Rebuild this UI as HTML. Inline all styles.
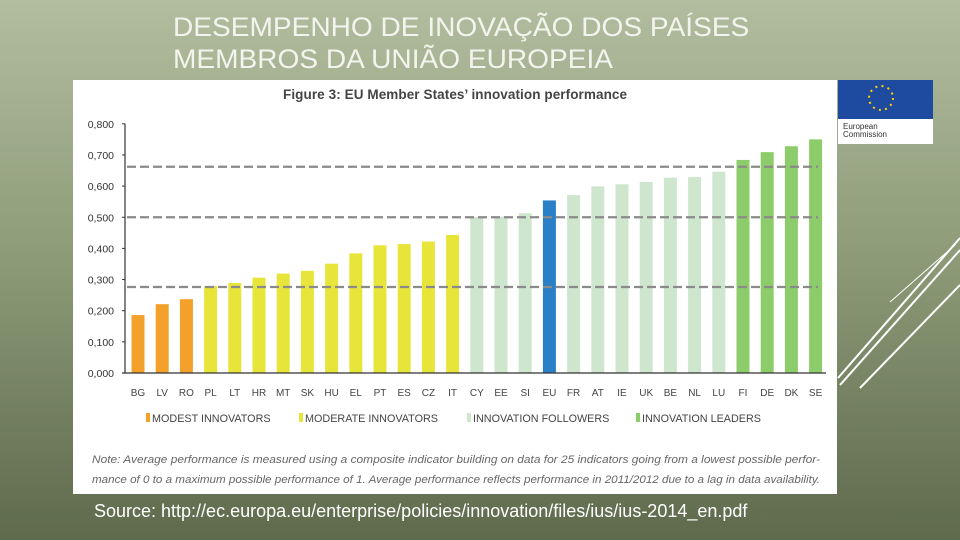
<!DOCTYPE html>
<html><head><meta charset="utf-8"><style>
body{margin:0;width:960px;height:540px;overflow:hidden;background:linear-gradient(180deg,#b2bd9f 0%,#8f9d7a 45%,#5e6a4c 100%);font-family:"Liberation Sans",sans-serif;position:relative}
.title{position:absolute;left:173px;top:11px;color:#f4f4ee;font-size:27px;line-height:32px;white-space:nowrap;transform:scaleX(1.04);transform-origin:left}
.src{position:absolute;left:94px;top:501px;color:#fff;font-size:18px;white-space:nowrap}
svg{position:absolute;left:0;top:0}
</style></head><body>
<div class="title">DESEMPENHO DE INOVAÇÃO DOS PAÍSES<br>MEMBROS DA UNIÃO EUROPEIA</div>
<svg width="960" height="540" id="s">
<rect x="73" y="80" width="764" height="414" fill="#fff"/>
<text x="455" y="99" text-anchor="middle" font-size="13.5" font-weight="bold" fill="#444" textLength="344">Figure 3: EU Member States’ innovation performance</text>
<g id="logo">
<rect x="838" y="80" width="95" height="64" fill="#fff"/>
<rect x="838" y="80" width="95" height="39" fill="#1e4aa0"/>
<circle cx="881" cy="98" r="12" fill="none" stroke="#ffd200" stroke-width="2" stroke-dasharray="2 4.3"/>
<text x="843" y="129" font-size="8" fill="#333">European</text>
<text x="843" y="137" font-size="8" fill="#333">Commission</text>
</g>
<g stroke="#fff" stroke-width="2">
<line x1="960" y1="238" x2="838" y2="378"/><line x1="960" y1="250" x2="840" y2="385"/>
<line x1="960" y1="285" x2="860" y2="388"/><line x1="955" y1="245" x2="890" y2="302" stroke-width="1"/>
</g>
<g id="plot"></g>
<text x="92" y="463" font-size="11" font-style="italic" fill="#666" textLength="728" lengthAdjust="spacingAndGlyphs">Note: Average performance is measured using a composite indicator building on data for 25 indicators going from a lowest possible perfor-</text>
<text x="92" y="483" font-size="11" font-style="italic" fill="#666" textLength="728" lengthAdjust="spacingAndGlyphs">mance of 0 to a maximum possible performance of 1. Average performance reflects performance in 2011/2012 due to a lag in data availability.</text>
</svg>
<div class="src">Source: http://ec.europa.eu/enterprise/policies/innovation/files/ius/ius-2014_en.pdf</div>
<script>
const categories=["BG","LV","RO","PL","LT","HR","MT","SK","HU","EL","PT","ES","CZ","IT","CY","EE","SI","EU","FR","AT","IE","UK","BE","NL","LU","FI","DE","DK","SE"];
const values=[0.186,0.221,0.237,0.279,0.289,0.306,0.319,0.328,0.351,0.384,0.410,0.414,0.422,0.443,0.501,0.502,0.513,0.554,0.571,0.599,0.606,0.613,0.627,0.629,0.646,0.684,0.709,0.728,0.750];
const groups=[0,0,0,1,1,1,1,1,1,1,1,1,1,1,2,2,2,4,2,2,2,2,2,2,2,3,3,3,3];
const groupColors=["#f4a12c","#e8e53a","#cde6cd","#8ccc6a","#2a7fc6"];
const legendLabels=["MODEST INNOVATORS","MODERATE INNOVATORS","INNOVATION FOLLOWERS","INNOVATION LEADERS"];
const thresholds=[0.662,0.500,0.276];
const ticks=[0,0.1,0.2,0.3,0.4,0.5,0.6,0.7,0.8];
const tickLabels=["0,000","0,100","0,200","0,300","0,400","0,500","0,600","0,700","0,800"];
const NS="http://www.w3.org/2000/svg",g=document.getElementById('plot');
const y=v=>373-v*311.5, x=i=>138+i*24.2;
function mk(t,a){const e=document.createElementNS(NS,t);for(const k in a)e.setAttribute(k,a[k]);g.appendChild(e);return e;}
values.forEach((v,i)=>{const r=mk('rect',{x:x(i)-6.5,y:y(v),width:13,height:373-y(v),fill:groupColors[groups[i]]});


const t=mk('text',{x:x(i),y:396,'text-anchor':'middle','font-size':10,fill:'#444'});t.textContent=categories[i];

});
thresholds.forEach(v=>{const l=mk('line',{x1:127,x2:818,y1:y(v),y2:y(v),stroke:'#8a8a8a','stroke-width':2.2,'stroke-dasharray':'9 4'});

});
const ax=mk('line',{x1:125,x2:125,y1:y(0.8),y2:373,stroke:'#333','stroke-width':1.2});


const xa=mk('line',{x1:122,x2:826,y1:373,y2:373,stroke:'#333','stroke-width':1.2});


ticks.forEach((v,i)=>{mk('line',{x1:122,x2:125,y1:y(v),y2:y(v),stroke:'#333'});
const t=mk('text',{x:114,y:y(v)+4,'text-anchor':'end','font-size':10.5,fill:'#333'});t.textContent=tickLabels[i];

});
const lx=[146,299,467,636];
legendLabels.forEach((s,i)=>{mk('rect',{x:lx[i],y:413,width:4,height:9,fill:groupColors[i]});
const t=mk('text',{x:lx[i]+6,y:422,'font-size':10.8,fill:'#444'});t.textContent=s;

});
</script>
</body></html>
